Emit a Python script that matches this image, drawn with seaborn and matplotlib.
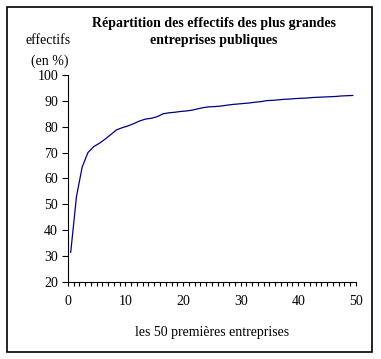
import matplotlib
matplotlib.use("Agg")
import matplotlib.pyplot as plt
import matplotlib.patches as patches
import seaborn as sns
import pandas as pd
from matplotlib.ticker import MultipleLocator

# rang des entreprises (points centrés dans chaque catégorie)
rang = [i + 0.5 for i in range(50)]
effectifs_cumules = [
    31.5, 53.0, 64.5, 70.0, 72.3, 73.6, 75.2, 77.0, 78.8, 79.6,
    80.3, 81.2, 82.2, 82.9, 83.2, 83.8, 84.9, 85.3, 85.5, 85.8,
    86.0, 86.3, 86.8, 87.3, 87.6, 87.7, 87.9, 88.2, 88.5, 88.7,
    88.9, 89.1, 89.4, 89.6, 90.0, 90.1, 90.3, 90.5, 90.6, 90.8,
    90.9, 91.0, 91.2, 91.3, 91.4, 91.5, 91.6, 91.8, 91.9, 92.0,
]

df = pd.DataFrame({"rang": rang, "effectifs": effectifs_cumules})

sns.set_style("ticks", {"axes.edgecolor": "black", "xtick.color": "black",
                        "ytick.color": "black", "text.color": "black",
                        "axes.labelcolor": "black"})
plt.rcParams["font.family"] = ["Liberation Serif", "DejaVu Serif"]

fig = plt.figure(figsize=(3.81, 3.59), dpi=100)
ax = fig.add_axes([0.178, 0.2136, 0.756, 0.5784])

sns.lineplot(data=df, x="rang", y="effectifs", color="#000080", linewidth=0.9, ax=ax)

ax.set_xlim(0, 50)
ax.set_ylim(20, 100)
ax.xaxis.set_major_locator(MultipleLocator(10))
ax.xaxis.set_minor_locator(MultipleLocator(1))
ax.yaxis.set_major_locator(MultipleLocator(10))
ax.tick_params(axis="x", which="both", direction="out", length=3, width=0.8,
               labelsize=10, pad=6, colors="black")
ax.tick_params(axis="y", direction="out", length=4, width=0.8, labelsize=10,
               pad=3, colors="black")
sns.despine(ax=ax)
for s in ["left", "bottom"]:
    ax.spines[s].set_linewidth(0.8)
    ax.spines[s].set_color("black")

ax.set_xlabel("les 50 premières entreprises", fontsize=10, labelpad=13, color="black")
ax.set_ylabel("")

fig.text(0.562, 0.911, "Répartition des effectifs des plus grandes\nentreprises publiques",
         ha="center", va="center", fontsize=10, fontweight="bold", linespacing=1.35)
fig.text(0.125, 0.888, "effectifs", ha="center", va="center", fontsize=10)
fig.text(0.13, 0.83, "(en %)", ha="center", va="center", fontsize=10)

fig.patches.append(patches.Rectangle((0.019, 0.019), 0.958, 0.961, transform=fig.transFigure,
                                     fill=False, edgecolor="black", linewidth=1.2))

fig.savefig("out.png", dpi=100)
